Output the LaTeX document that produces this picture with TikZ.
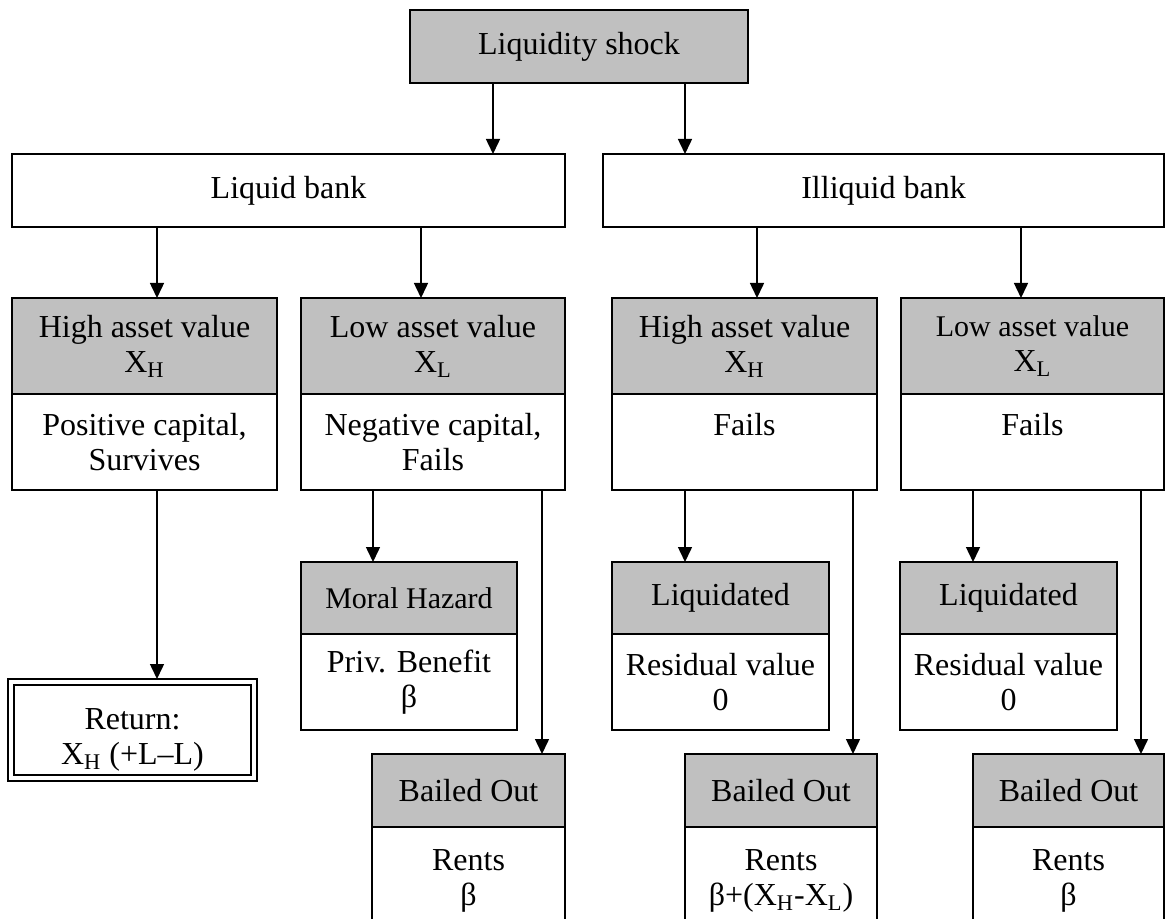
\documentclass[tikz,border=0pt]{standalone}
\usepackage{fontspec}
\setmainfont{Liberation Serif}
\usepackage{tikz}
\usetikzlibrary{arrows.meta, positioning}
\definecolor{boxgray}{RGB}{192,192,192}

\begin{document}
\begin{tikzpicture}[x=0.5pt, y=-0.5pt, ->, >={Triangle[length=7.5pt,width=7pt]}, line width=0.75pt]
    \tikzstyle{every node}=[font=\fontsize{16}{17.5}\selectfont, align=center, inner sep=0pt, outer sep=0pt]
    \tikzstyle{hd}=[shape=rectangle, fill=boxgray, draw=black, line width=0.8pt]
    \tikzstyle{res}=[shape=rectangle, fill=white, draw=black, line width=0.8pt]
    \tikzstyle{smalltxt}=[font=\fontsize{15}{17.5}\selectfont]

    \path[use as bounding box, clip] (0,0) rectangle (1165,919);

    \node[hd, minimum width=169pt, minimum height=36.5pt]  (s1) at (579,46.5) {Liquidity shock};
        \node[res, minimum width=276.5pt, minimum height=36.5pt]  (s21) at (288.5,190.5) {Liquid bank};
        \node[res, minimum width=280.5pt, minimum height=36.5pt]  (s22) at (883.5,190.5) {Illiquid bank};

    % liquid bank
            \node[hd, minimum width=132.5pt, minimum height=48pt]  (s211) at (144.5,346) {High asset value\\X\textsubscript{H}};
            \node[res, minimum width=132.5pt, minimum height=48pt]  (s211b) at (144.5,442) {Positive capital,\\Survives};
            \node[hd, minimum width=132pt, minimum height=48pt]  (s212) at (433,346) {Low asset value\\X\textsubscript{L}};
            \node[res, minimum width=132pt, minimum height=48pt]  (s212b) at (433,442) {Negative capital,\\Fails};

                \node[res, line width=1.3pt, minimum width=118.5pt, minimum height=45pt]  (s2111) at (132.5,730) {\rule{0pt}{20pt}Return:\\X\textsubscript{H} (+L--L)};
                \draw[-] ([shift={(-3pt,3pt)}]s2111.north west) rectangle ([shift={(3pt,-3pt)}]s2111.south east);

                \node[hd, smalltxt, minimum width=108pt, minimum height=36pt]  (s2121) at (409,598) {Moral Hazard};
                \node[res, minimum width=108pt, minimum height=48pt]  (s2121b) at (409,682) {Priv. Benefit\\β};
                \node[hd, minimum width=96.5pt, minimum height=36.5pt]  (s2122) at (468.5,790.5) {Bailed Out};
                \node[res, minimum width=96.5pt, minimum height=54pt]  (s2122b) at (468.5,881) {Rents\\β};

    % illiquid bank
            \node[hd, minimum width=132.5pt, minimum height=48pt]  (s221) at (744.5,346) {High asset value\\X\textsubscript{H}};
            \node[res, minimum width=132.5pt, minimum height=48pt]  (s221b) at (744.5,442) {Fails\\\mbox{}};
            \node[hd, minimum width=131.5pt, minimum height=48pt]  (s222) at (1032.5,346) {\fontsize{15}{17.5}\selectfont Low asset value\\X\textsubscript{L}};
            \node[res, minimum width=131.5pt, minimum height=48pt]  (s222b) at (1032.5,442) {Fails\\\mbox{}};

                \node[hd, minimum width=108.5pt, minimum height=36pt]  (s2211) at (720.5,598) {Liquidated};
                \node[res, minimum width=108.5pt, minimum height=48pt]  (s2211b) at (720.5,682) {Residual value\\0};
                \node[hd, minimum width=96pt, minimum height=36.5pt]  (s2212) at (781,790.5) {Bailed Out};
                \node[res, minimum width=96pt, minimum height=54pt]  (s2212b) at (781,881) {Rents\\β+(X\textsubscript{H}-X\textsubscript{L})};

                \node[hd, minimum width=108.5pt, minimum height=36pt]  (s2221) at (1008.5,598) {Liquidated};
                \node[res, minimum width=108.5pt, minimum height=48pt]  (s2221b) at (1008.5,682) {Residual value\\0};
                \node[hd, minimum width=95.5pt, minimum height=36.5pt]  (s2222) at (1068.5,790.5) {Bailed Out};
                \node[res, minimum width=95.5pt, minimum height=54pt]  (s2222b) at (1068.5,881) {Rents\\β};

    % connectors
    \draw ([xshift=-43pt]s1.south) -- ([xshift=-43pt]s1.south |- s21.north);
    \draw ([xshift=53pt]s1.south) -- ([xshift=53pt]s1.south |- s22.north);

    \draw ([xshift=-65.75pt]s21.south) -- ([xshift=-65.75pt]s21.south |- s211.north);
    \draw ([xshift=66.25pt]s21.south) -- ([xshift=66.25pt]s21.south |- s212.north);
    \draw ([xshift=-63.25pt]s22.south) -- ([xshift=-63.25pt]s22.south |- s221.north);
    \draw ([xshift=68.75pt]s22.south) -- ([xshift=68.75pt]s22.south |- s222.north);

    \draw[shorten >=3pt] ([xshift=6.25pt]s211b.south) -- ([xshift=6.25pt]s211b.south |- s2111.north);

    \draw ([xshift=-30pt]s212b.south) -- ([xshift=-30pt]s212b.south |- s2121.north);
    \draw ([xshift=54.5pt]s212b.south) -- ([xshift=54.5pt]s212b.south |- s2122.north);
    \draw ([xshift=-29.75pt]s221b.south) -- ([xshift=-29.75pt]s221b.south |- s2211.north);
    \draw ([xshift=54.25pt]s221b.south) -- ([xshift=54.25pt]s221b.south |- s2212.north);
    \draw ([xshift=-29.75pt]s222b.south) -- ([xshift=-29.75pt]s222b.south |- s2221.north);
    \draw ([xshift=54.25pt]s222b.south) -- ([xshift=54.25pt]s222b.south |- s2222.north);

\end{tikzpicture}
\end{document}
